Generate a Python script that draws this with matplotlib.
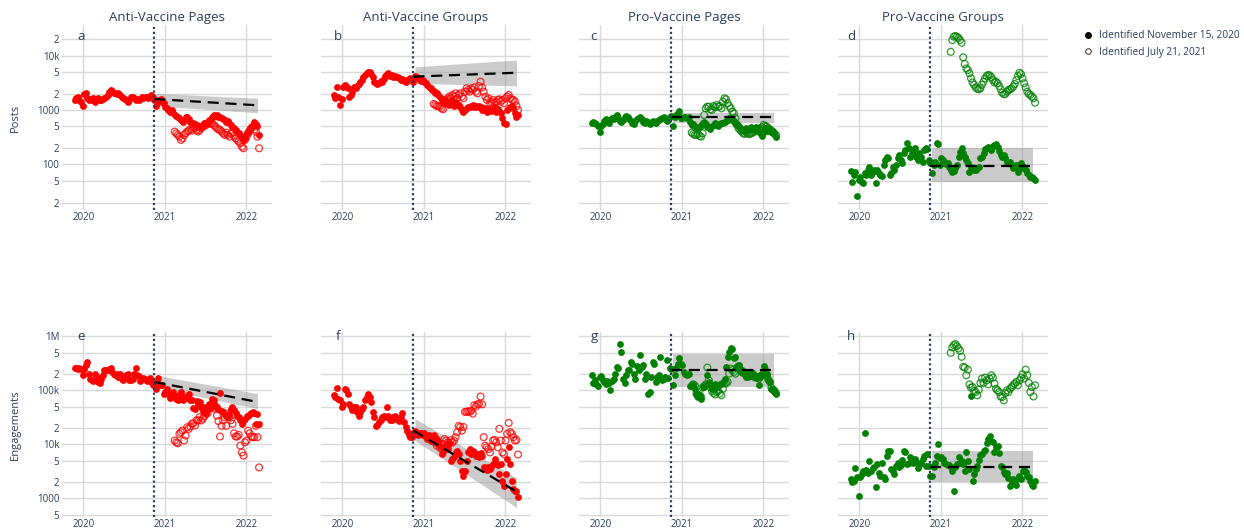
import matplotlib.pyplot as plt
import numpy as np
import pandas as pd
from matplotlib.lines import Line2D

plt.rcParams["font.family"] = ["Open Sans", "DejaVu Sans"]

TEXT = "#2a3f5f"
GRID = "#d9d9d9"

# weekly dates: accounts identified Nov 15, 2020 / Jul 21, 2021
weeks_nov = pd.date_range("2019-11-24", "2022-02-27", freq="W-SUN")
weeks_jul = pd.date_range("2021-02-14", "2022-02-27", freq="W-SUN")
policy_date = pd.Timestamp("2020-11-15")
trend_dates = pd.to_datetime(["2020-11-15", "2022-02-20"])
band_dates = pd.to_datetime(["2020-11-22", "2022-02-20"])

titles = ["Anti-Vaccine Pages", "Anti-Vaccine Groups", "Pro-Vaccine Pages", "Pro-Vaccine Groups"]
letters = ["a", "b", "c", "d", "e", "f", "g", "h"]
row_labels = ["Posts", "Engagements"]

# ---- posts ----
anti_pages_posts_nov = [
    1530, 1640, 1760, 1530, 1420, 1180, 1970, 2020, 1640, 1530,
    1570, 1530, 1640, 1420, 1590, 1640, 1530, 1530, 1570, 1640, 1760, 1890, 2170,
    2330, 2260, 2080, 2020, 1970, 2020, 1890, 1760, 1640, 1570, 1530, 1420, 1530,
    1760, 1710, 1640, 1530, 1570, 1530, 1590, 1710, 1640, 1710, 1760, 1640, 1710,
    1890, 1760, 1530, 1180, 1420, 1530, 1570, 1420, 1330,
    1150, 1070, 1000, 932, 1000, 894, 810, 776, 755, 703, 656, 611, 656,
    755, 734, 674, 611, 586, 570, 553, 530, 495, 495, 509, 530, 570,
    570, 611, 656, 674, 755, 810, 776, 810, 734, 755, 703, 674, 656,
    611, 637, 570, 530, 495, 461, 430, 401, 373, 348, 324, 282, 302,
    373, 401, 461, 495, 509, 611, 553, 509, 348]
anti_pages_posts_jul = [
    401, 373, 348, 324, 282, 302, 348, 373, 401, 418, 442,
    418, 461, 495, 430, 401, 430, 461, 495, 509, 530, 570, 586, 553,
    570, 530, 495, 461, 442, 430, 401, 373, 348, 384, 348, 324, 363, 384,
    334, 302, 282, 263, 245, 212, 198, 282, 324, 373, 418, 461, 495,
    442, 401, 324, 198]

anti_groups_posts_nov = [
    1890, 1640, 2600, 1760, 1240, 1590, 2600, 2870, 2760, 2500,
    1760, 1890, 2170, 2600, 2500, 2760, 3000, 3310, 3550, 3970, 4380, 4700, 5050,
    5050, 4570, 3970, 3310, 3090, 3000, 3170, 3450, 3310, 3650, 4210, 4570, 4830,
    4210, 4380, 3970, 4210, 4090, 3970, 3810, 3550, 3650, 3450, 3310, 3550, 3650,
    3810, 3550, 3310, 4210, 3970, 3810, 3550, 3450, 3550,
    3310, 3090, 2870, 2680, 2500, 2330, 2260, 2080, 2020, 1890, 1760, 1530, 1420,
    1530, 1330, 1420, 1240, 1330, 1530, 1180, 1420, 1240, 1240, 1150, 1000, 932,
    1000, 1070, 1120, 1150, 1180, 1240, 1150, 1180, 1120, 1180, 1120, 1000, 1070,
    1000, 932, 1070, 1000, 972, 1000, 1120, 932, 1030, 972, 894, 703, 586,
    553, 1000, 1070, 1120, 1180, 1070, 894, 755, 810]
anti_groups_posts_jul = [
    1290, 1240, 1180, 1180, 1150, 1070, 1030, 1330, 1530, 1640, 1760,
    1640, 1890, 1760, 2020, 1640, 1890, 2020, 1760, 1640, 2170, 2500, 2330, 2170,
    2500, 2330, 2600, 2170, 2020, 2760, 3310, 2600, 2170, 1760, 1530, 1640, 1330, 1420,
    1530, 1330, 1420, 1530, 1570, 1420, 1530, 1330, 1640, 1760, 1890, 1640, 1530,
    1530, 1420, 1180, 1000]

pro_pages_posts_nov = [
    586, 611, 586, 553, 509, 401, 509, 553, 637, 674,
    637, 586, 656, 703, 674, 734, 810, 703, 637, 611, 656, 755, 776,
    734, 674, 637, 586, 553, 637, 674, 703, 734, 674, 611, 570, 637,
    611, 553, 586, 637, 595, 586, 637, 656, 674, 703, 755, 674, 637,
    656, 734, 776, 509, 755, 810, 869, 972, 703,
    703, 734, 755, 703, 755, 611, 530, 553, 509, 495, 461, 481, 530,
    586, 611, 553, 495, 495, 442, 509, 530, 570, 530, 509, 553, 570,
    586, 611, 637, 656, 703, 674, 656, 637, 586, 553, 509, 461, 430,
    442, 418, 461, 430, 442, 481, 461, 430, 495, 461, 418, 373, 334,
    401, 461, 418, 442, 430, 401, 418, 373, 324]
pro_pages_posts_jul = [
    384, 363, 348, 348, 363, 334, 324, 373, 810, 1070, 1150,
    1150, 1030, 1000, 1180, 1120, 1240, 1150, 1180, 1070, 1420, 1640, 1570, 1330,
    1180, 1070, 932, 869, 703, 530, 461, 430, 401, 373, 363, 384, 373, 358,
    373, 384, 401, 418, 430, 442, 461, 481, 530, 509, 495, 461, 442,
    418, 384, 363, 348]

pro_groups_posts_nov = [
    77, 48, 64, 74, 26, 52, 60, 48, 45, 69,
    64, 79, 91, 64, 74, 79, 45, 79, 70, 64, 61, 98, 121,
    139, 130, 64, 69, 91, 79, 98, 130, 150, 121, 105, 160, 185,
    245, 198, 139, 160, 172, 198, 139, 121, 160, 139, 113, 185, 198,
    190, 121, 105, 69, 98, 113, 245, 238, 98,
    130, 121, 108, 102, 105, 91, 79, 74, 77, 85, 98, 139, 172,
    198, 160, 139, 121, 105, 74, 91, 85, 79, 79, 85, 91, 130,
    139, 160, 190, 198, 212, 198, 185, 219, 228, 238, 212, 180, 150,
    139, 150, 130, 113, 105, 113, 98, 85, 91, 98, 74, 81, 105,
    85, 91, 79, 69, 64, 60, 58, 56, 52]
pro_groups_posts_jul = [
    11700, 19200, 22200, 22800, 22200, 21000, 19200, 17200, 9250, 7000, 5800,
    5400, 4700, 3800, 3200, 2900, 2600, 2450, 2400, 2500, 2900, 3300, 3800, 4200,
    4400, 4300, 4000, 3550, 3200, 3300, 3100, 2760, 2400, 2080, 1940, 1970, 2170, 2330,
    2400, 2500, 2680, 3000, 3550, 4200, 4830, 4570, 3800, 3100, 2600, 2170, 1970,
    1890, 1760, 1640, 1360]

# ---- engagements ----
anti_pages_eng_nov = [
    264000, 264000, 253000, 264000, 253000, 190000, 253000, 292000, 336000, 204000,
    165000, 153000, 149000, 198000, 177000, 143000, 137000, 165000, 190000,
    236000, 242000, 236000, 253000,
    264000, 219000, 204000, 190000, 204000, 177000, 204000, 165000, 153000,
    172000, 190000, 198000, 158000, 153000, 165000, 204000, 264000, 190000,
    182000, 149000, 165000, 172000, 165000, 149000, 158000, 172000,
    143000, 124000, 137000, 107000, 172000, 133000, 124000, 124000, 87000,
    93000, 107000, 87000, 73000, 81000, 93000, 77000, 70000, 65000, 81000, 93000, 67000, 75000,
    73000, 77000, 87000, 65000, 67000, 48000, 46000, 63000, 56000, 61000, 49000, 42000, 49000,
    37000, 46000, 55000, 49000, 70000, 65000, 53000, 49000, 46000, 89000, 42000, 40000, 37000,
    34000, 32000, 37000, 46000, 49000, 44000, 38000, 34000, 32000, 28000, 24000, 27000, 30000,
    33000, 34000, 36000, 38000, 40000, 38000, 24000, 37000, 24000]
anti_pages_eng_jul = [
    11800, 10900, 10500, 15700, 16800, 18100, 11800, 14600, 20800, 19400, 21400,
    24000, 24700, 22400, 28000, 27700, 32000, 27700, 30000, 33000, 40000, 38000, 46000, 48000,
    53000, 46000, 49000, 34000, 27000, 14000, 22000, 28000, 32000, 22000, 37000, 32000, 28000, 24000,
    16000, 14000, 14000, 15000, 9500, 7100, 6200, 10900, 11800, 18000, 16000, 14000, 13600,
    13600, 22000, 13600, 3750]

anti_groups_eng_nov = [
    81000, 75000, 112000, 70000, 65000, 49000, 56000, 107000, 100000, 87000,
    56000, 50000, 44000, 49000, 49000, 40000, 33000, 40000, 45000, 49000, 65000, 75000, 87000,
    75000, 61000, 40000, 32000, 22000, 23000, 26000, 28000, 32000, 34000, 32000, 49000, 33000,
    28000, 28000, 32000, 34000, 31000, 28000, 27000, 32000, 38000, 26000, 21000, 18000, 15000,
    14000, 13600, 16000, 17500, 16000, 15000, 16000, 16000, 15000,
    16000, 13600, 12600, 15000, 11800, 13600, 15200, 14000, 12600, 10900, 9500, 6600, 7100,
    8800, 9500, 8200, 10200, 5000, 5400, 5800, 7100, 7700, 6600, 5000, 3200, 2600,
    3200, 5000, 7100, 8200, 6600, 7700, 7100, 6200, 6600, 5800, 6800, 6200, 3750,
    3500, 3300, 3750, 3500, 3900, 4300, 5400, 4600, 4200, 2800, 4300, 2100, 1700,
    2800, 5400, 8800, 4300, 2100, 1500, 1400, 1400, 1070]
anti_groups_eng_jul = [
    11800, 10900, 9500, 10200, 8800, 8200, 10200, 12600, 11800, 10900, 10500,
    12100, 10900, 11800, 13600, 16800, 22000, 21000, 18000, 21000, 40000, 40000, 41000, 40000,
    42000, 37000, 53000, 50000, 55000, 56000, 77000, 55000, 13600, 9500, 8800, 8200, 7100, 9100,
    11800, 12100, 10900, 8800, 19400, 11800, 7100, 6600, 11800, 15700, 25000, 16800, 15700,
    13600, 11800, 12100, 6500]

pro_pages_eng_nov = [
    190000, 137000, 158000, 129000, 119000, 177000, 182000, 153000, 143000, 133000,
    149000, 137000, 100000, 149000, 165000, 200000, 272000, 264000, 717000,
    516000, 165000, 137000, 190000,
    236000, 236000, 336000, 313000, 204000, 165000, 279000, 236000, 448000,
    272000, 292000, 165000, 204000, 87000, 93000, 177000, 336000, 313000,
    143000, 177000, 190000, 417000, 153000, 165000, 177000, 361000,
    172000, 264000, 253000, 124000, 190000, 264000, 313000, 405000, 313000,
    292000, 219000, 204000, 190000, 204000, 119000, 129000, 124000, 107000, 87000, 75000, 81000, 70000,
    115000, 115000, 124000, 190000, 143000, 124000, 107000, 115000, 133000, 115000, 119000, 129000, 133000,
    143000, 165000, 272000, 417000, 516000, 595000, 570000, 405000, 417000, 272000, 292000, 253000, 236000,
    219000, 204000, 177000, 190000, 210000, 219000, 204000, 190000, 177000, 172000, 124000, 177000, 190000,
    279000, 253000, 204000, 153000, 143000, 107000, 107000, 97000, 87000]
pro_pages_eng_jul = [
    119000, 129000, 122000, 87000, 77000, 81000, 75000, 112000, 119000, 129000, 264000,
    153000, 115000, 97000, 89000, 84000, 93000, 97000, 87000, 81000, 107000, 133000, 137000, 143000,
    204000, 253000, 236000, 219000, 204000, 264000, 279000, 236000, 219000, 210000, 204000, 190000, 177000, 182000,
    190000, 204000, 177000, 172000, 177000, 165000, 182000, 190000, 204000, 219000, 190000, 158000, 143000,
    112000, 103000, 97000, 89000]

pro_groups_eng_nov = [
    2300, 2000, 2100, 3600, 2500, 1100, 2500, 2800, 3200, 16000,
    3300, 3000, 5000, 3200, 3600, 3900, 1600, 4300, 3000, 2600, 4500, 2500, 2300,
    6200, 7400, 7700, 3500, 3200, 2800, 4000, 4600, 3750, 4200, 5100, 7700, 7100,
    4300, 4600, 5900, 5400, 4500, 5400, 5000, 3600, 4200, 4600, 5400, 6200, 4000,
    6600, 4000, 2600, 2600, 3750, 4600, 6200, 10200, 5600,
    5900, 5400, 4600, 4300, 4200, 4200, 3750, 3200, 1400, 3750, 4300, 5800, 4600,
    5000, 4300, 3200, 7100, 5000, 3500, 78000, 2100, 2800, 3500, 4000, 5100, 6500,
    6600, 7400, 7900, 10500, 12600, 14600, 11800, 10900, 7100, 8800, 9500, 6800, 4000,
    3900, 3150, 2800, 2900, 2400, 1700, 1900, 2300, 1900, 1800, 2400, 2600, 2300,
    3200, 3300, 3150, 2600, 2500, 2100, 1800, 1700, 2100]
pro_groups_eng_jul = [
    494000, 621000, 688000, 717000, 658000, 595000, 539000, 417000, 272000, 264000, 190000,
    242000, 129000, 112000, 115000, 97000, 93000, 81000, 103000, 137000, 165000, 137000, 172000, 153000,
    129000, 165000, 190000, 172000, 133000, 107000, 100000, 93000, 77000, 75000, 65000, 89000, 100000, 93000,
    107000, 115000, 124000, 133000, 143000, 124000, 153000, 172000, 198000, 165000, 242000, 190000, 137000,
    93000, 115000, 77000, 124000]

# fitted trend after Nov 15, 2020 (start, end) and its confidence band
trend_mid = [[1590, 1220], [4090, 4830], [734, 734], [95, 95],
             [143000, 61000], [18000, 1340], [236000, 236000], [3900, 3900]]
trend_lo = [[1180, 894], [3090, 2760], [586, 586], [48, 48],
            [112000, 46000], [11800, 680], [115000, 115000], [2000, 2000]]
trend_hi = [[2020, 1640], [6200, 8270], [894, 894], [198, 198],
            [190000, 87000], [30000, 2400], [469000, 469000], [7700, 7700]]

series_nov = [anti_pages_posts_nov, anti_groups_posts_nov, pro_pages_posts_nov, pro_groups_posts_nov,
              anti_pages_eng_nov, anti_groups_eng_nov, pro_pages_eng_nov, pro_groups_eng_nov]
series_jul = [anti_pages_posts_jul, anti_groups_posts_jul, pro_pages_posts_jul, pro_groups_posts_jul,
              anti_pages_eng_jul, anti_groups_eng_jul, pro_pages_eng_jul, pro_groups_eng_jul]
colors = ["red", "red", "green", "green"] * 2

row_ticks = [[20, 50, 100, 200, 500, 1000, 2000, 5000, 10000, 20000],
             [500, 1000, 2000, 5000, 10000, 20000, 50000, 100000, 200000, 500000, 1000000]]
row_ticklabels = [["2", "5", "100", "2", "5", "1000", "2", "5", "10k", "2"],
                  ["5", "1000", "2", "5", "10k", "2", "5", "100k", "2", "5", "1M"]]
row_ylim = [(14.6, 36300), (454, 1.2e6)]

W, H = 1244, 529
fig = plt.figure(figsize=(W / 100, H / 100), dpi=100)

col_left = [62, 321, 579, 838]
row_top = [25, 332]
ax_w, ax_h = 210, 185
letter_x = [0.09, 0.081, 0.071, 0.062]
letter_y = [0.94, 0.973]

for i in range(8):
    r, c = divmod(i, 4)
    ax = fig.add_axes([col_left[c] / W, 1 - (row_top[r] + ax_h) / H, ax_w / W, ax_h / H])
    ax.set_yscale("log")
    ax.set_ylim(*row_ylim[r])
    ax.set_xlim(pd.Timestamp("2019-09-28"), pd.Timestamp("2022-04-26"))

    ax.fill_between(band_dates, trend_lo[i], trend_hi[i], color="#999999", alpha=0.5,
                    lw=0, zorder=2)
    ax.scatter(weeks_nov, series_nov[i], s=24, color=colors[i], lw=0, zorder=3)
    ax.scatter(weeks_jul, series_jul[i], s=24, facecolors="none", edgecolors=colors[i],
               linewidths=0.9, alpha=0.8, zorder=3)
    ax.plot(trend_dates, trend_mid[i], color="black", lw=1.6, ls=(0, (5, 3)), zorder=4)
    ax.axvline(policy_date, color=TEXT, lw=1.6, ls=(0, (1, 1.2)), zorder=5)

    ax.set_yticks(row_ticks[r])
    ax.yaxis.set_minor_locator(plt.NullLocator())
    if c == 0:
        ax.set_yticklabels(row_ticklabels[r])
        for lab in ax.get_yticklabels():
            lab.set_fontsize(7 if len(lab.get_text()) > 1 else 5.5)
    else:
        ax.set_yticklabels([])
    ax.set_xticks(pd.to_datetime(["2020-01-01", "2021-01-01", "2022-01-01"]))
    ax.set_xticklabels(["2020", "2021", "2022"])
    ax.tick_params(axis="both", length=0, colors=TEXT, labelsize=7, pad=2)
    ax.tick_params(axis="x", pad=1.5)
    ax.grid(True, color=GRID, lw=1, zorder=0)
    ax.set_axisbelow(True)
    for sp in ax.spines.values():
        sp.set_visible(False)

    ax.text(letter_x[c], letter_y[r], letters[i], transform=ax.transAxes, fontsize=9.5,
            color=TEXT, ha="center", va="center")
    if r == 0:
        ax.set_title(titles[c], fontsize=9.5, color=TEXT, pad=3)

for r in range(2):
    fig.text(15 / W, 1 - (row_top[r] + ax_h / 2) / H, row_labels[r], rotation=90,
             ha="center", va="center", fontsize=8, color=TEXT)

handles = [
    Line2D([], [], ls="", marker="o", ms=4, color="black"),
    Line2D([], [], ls="", marker="o", ms=4, mfc="none", mec="#444444", mew=0.8),
]
fig.legend(handles, ["Identified November 15, 2020", "Identified July 21, 2021"],
           loc="upper left", bbox_to_anchor=(1078 / W, 1 - 26 / H), frameon=False,
           fontsize=7.3, labelcolor=TEXT, handletextpad=0.5, labelspacing=0.55,
           borderaxespad=0, handlelength=1.2)

fig.savefig("out.png", dpi=100)
